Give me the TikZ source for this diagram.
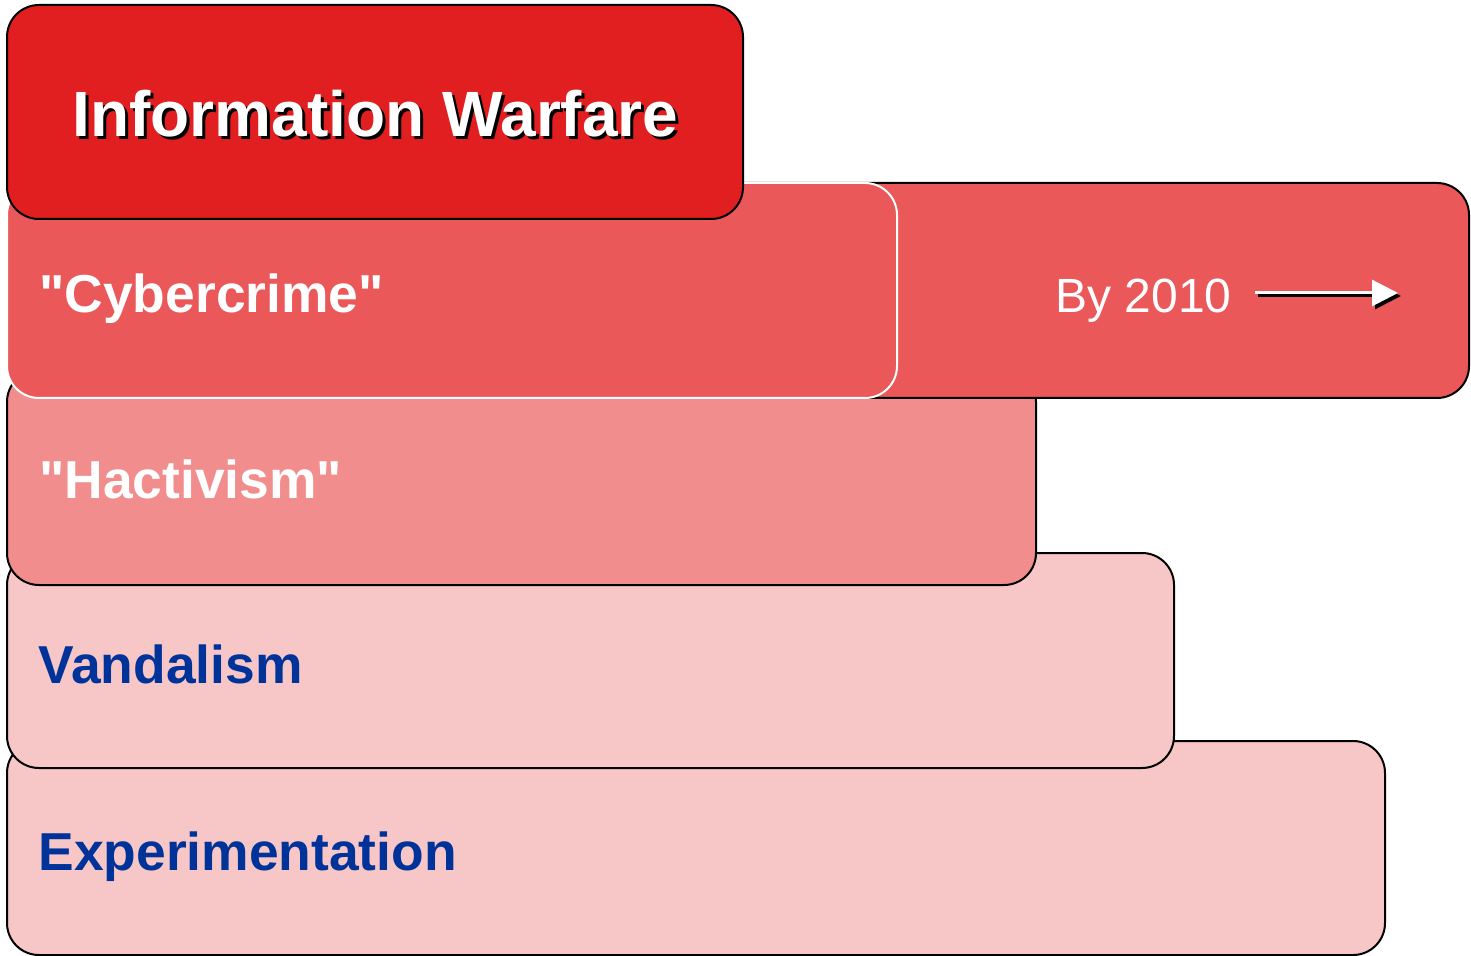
\documentclass[tikz,border=0pt]{standalone}
\usepackage{fontspec}
\setmainfont{Liberation Sans}[Ligatures=TeXOff]
\usetikzlibrary{arrows.meta}
\definecolor{iwred}{HTML}{E21F20}
\definecolor{ccred}{HTML}{EA5859}
\definecolor{hcpink}{HTML}{F18E8D}
\definecolor{lpink}{HTML}{F7C6C7}
\definecolor{dblue}{HTML}{003399}
\tikzset{
  panel/.style={draw=black, line width=1pt, rounded corners=16pt},
  lbl/.style={anchor=base west, inner sep=0pt, font=\bfseries\fontsize{26.7}{30}\selectfont},
  arr/.style={line width=1.5pt, -{Triangle[length=13pt,width=13pt]}}
}
\begin{document}
\begin{tikzpicture}[x=0.5pt,y=-0.5pt]
\useasboundingbox (0,0) rectangle (1471,956);
% panels back to front
\draw[panel, fill=lpink] (7,741) rectangle (1385,955);
\draw[panel, fill=lpink] (7,553) rectangle (1174,768);
\draw[panel, fill=hcpink] (7,370) rectangle (1036,585);
\draw[panel, fill=ccred] (600,183) rectangle (1469,398);
\draw[panel, draw=white, fill=ccred] (7,183) rectangle (897,398);
\draw[panel, fill=iwred] (7,5) rectangle (743,219);
% texts
\node[anchor=base, inner sep=0pt, text=black, font=\bfseries\fontsize{32}{36}\selectfont] (iwsh) at (378.5,140) {Information Warfare};
\node[anchor=base, inner sep=0pt, text=white, font=\bfseries\fontsize{32}{36}\selectfont] (iw) at (375.5,137) {Information Warfare};
\node[lbl, text=white] (cc) at (39,313) {"Cybercrime"};
\node[lbl, text=white] (hc) at (39,499) {"Hactivism"};
\node[lbl, text=dblue] (va) at (38,683) {Vandalism};
\node[lbl, text=dblue] (ex) at (38,870) {Experimentation};
\node[anchor=base west, inner sep=0pt, text=white, font=\fontsize{24}{28}\selectfont] (by) at (1055,313) {By 2010};
% arrow with shadow
\coordinate (a1s) at (1258,296);
\coordinate (a2s) at (1401,296);
\coordinate (a1) at (1255,293);
\coordinate (a2) at (1398,293);
\draw[arr, black] (a1s) -- (a2s);
\draw[arr, white] (a1) -- (a2);
\end{tikzpicture}
\end{document}
